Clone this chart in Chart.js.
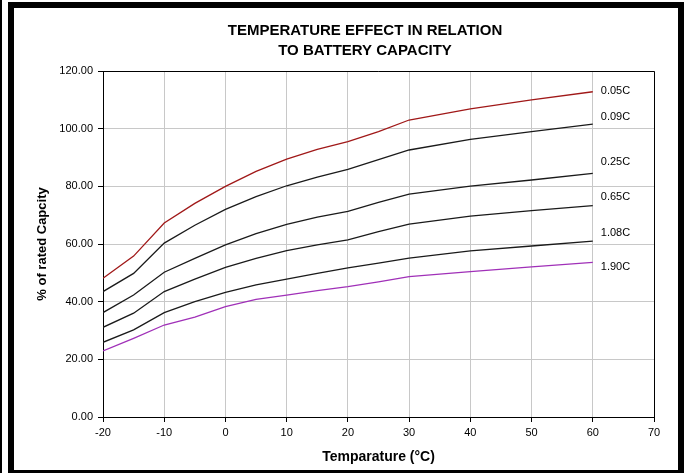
<!doctype html>
<html lang="en">

<head>
    <meta charset="utf-8">
    <title>Temperature Effect || Battery</title>
    <script src="https://cdn.jsdelivr.net/npm/chart.js"></script>
    <style>
        html, body {
            margin: 0;
            padding: 0;
            background: #ffffff;
        }

        .wrap {
            position: relative;
            width: 686px;
            height: 473px;
            overflow: hidden;
        }

        /* thin line on the far left + thick frame */
        .garis {
            position: absolute;
            left: 0;
            top: 0;
            width: 2px;
            height: 473px;
            background: #000;
        }

        .bingkai {
            position: absolute;
            left: 8px;
            top: 2px;
            width: 664px;
            height: 462px;
            border-left: 6px solid #000;
            border-top: 6px solid #000;
            border-right: 6px solid #000;
            border-bottom: 6px solid #000;
            pointer-events: none;
        }

        canvas {
            position: absolute;
            left: 0;
            top: 0;
        }
    </style>
</head>

<body>
    <div class="wrap">
        <canvas id="chart" width="686" height="473"></canvas>
        <div class="garis"></div>
        <div class="bingkai"></div>
    </div>

    <script>
        // temperatures (°C)
        const temps = [-20, -15, -10, -5, 0, 5, 10, 15, 20, 25, 30, 40, 50, 60];

        // % of rated capacity per discharge rate
        const rate005 = [48.1, 55.8, 67.3, 74.1, 80.0, 85.2, 89.4, 92.8, 95.5, 99.0, 103.0, 106.9, 110.0, 112.8];
        const rate009 = [43.5, 49.8, 60.3, 66.5, 72.0, 76.4, 80.2, 83.2, 85.9, 89.3, 92.6, 96.3, 99.0, 101.6];
        const rate025 = [36.2, 42.3, 50.2, 55.0, 59.7, 63.6, 66.8, 69.3, 71.3, 74.4, 77.3, 80.1, 82.2, 84.5];
        const rate065 = [31.1, 36.0, 43.5, 47.8, 51.9, 55.0, 57.7, 59.7, 61.4, 64.3, 66.9, 69.7, 71.6, 73.3];
        const rate108 = [25.9, 30.2, 36.2, 40.0, 43.2, 45.8, 47.8, 49.8, 51.7, 53.4, 55.1, 57.6, 59.3, 61.0];
        const rate190 = [22.9, 27.3, 31.9, 34.6, 38.3, 40.8, 42.3, 43.8, 45.2, 46.9, 48.7, 50.4, 52.1, 53.6];

        const seriesNames = ['0.05C', '0.09C', '0.25C', '0.65C', '1.08C', '1.90C'];
        const seriesValues = [rate005, rate009, rate025, rate065, rate108, rate190];
        // where the name of each curve sits (in % units), right of the last point
        const labelAt = [113.1, 104.1, 88.4, 76.3, 63.8, 52.0];

        const colors = ['#a01818', '#1a1a1a', '#1a1a1a', '#1a1a1a', '#1a1a1a', '#a030b8'];
        const fontName = '"Liberation Sans", Arial, sans-serif';

        const datasets = seriesNames.map((name, i) => ({
            label: name,
            data: temps.map((t, k) => ({ x: t, y: seriesValues[i][k] })),
            borderColor: colors[i],
            borderWidth: 1.3,
            pointRadius: 0,
            tension: 0,
            fill: false
        }));

        // box line, curve names and the two-line title
        const hiasan = {
            id: 'hiasan',
            afterDraw(chart) {
                const { ctx, chartArea: a, scales } = chart;
                ctx.save();
                ctx.strokeStyle = '#000';
                ctx.lineWidth = 1;
                ctx.beginPath();
                ctx.moveTo(a.left, a.top + 0.5);
                ctx.lineTo(a.right + 0.5, a.top + 0.5);
                ctx.lineTo(a.right + 0.5, a.bottom);
                ctx.stroke();

                ctx.fillStyle = '#000';
                ctx.font = '11px ' + fontName;
                ctx.textBaseline = 'middle';
                ctx.textAlign = 'left';
                seriesNames.forEach((name, i) => {
                    const x = scales.x.getPixelForValue(temps[temps.length - 1]) + 8;
                    ctx.fillText(name, x, scales.y.getPixelForValue(labelAt[i]));
                });

                ctx.font = 'bold 15px ' + fontName;
                ctx.textAlign = 'center';
                ctx.fillText('TEMPERATURE EFFECT IN RELATION', 365, 31);
                ctx.fillText('TO BATTERY CAPACITY', 365, 51);
                ctx.restore();
            }
        };

        const ctx = document.getElementById('chart').getContext('2d');
        new Chart(ctx, {
            type: 'line',
            data: { datasets: datasets },
            options: {
                responsive: false,
                animation: false,
                layout: {
                    padding: { left: 0, top: 71, right: 32, bottom: 0 }
                },
                plugins: {
                    legend: { display: false },
                    tooltip: { enabled: false }
                },
                scales: {
                    x: {
                        type: 'linear',
                        min: -20,
                        max: 70,
                        afterFit: function (scale) { scale.height = 56; },
                        ticks: {
                            stepSize: 10,
                            color: '#000',
                            padding: 4,
                            maxRotation: 0,
                            font: { family: fontName, size: 11 }
                        },
                        grid: { color: '#c8c8c8', tickColor: '#000', tickLength: 5 },
                        border: { color: '#000', width: 1 },
                        title: {
                            display: true,
                            text: 'Temparature (°C)',
                            color: '#000',
                            font: { family: fontName, size: 14, weight: 'bold' },
                            padding: { top: 0, bottom: 7 }
                        }
                    },
                    y: {
                        min: 0,
                        max: 120,
                        afterFit: function (scale) { scale.width = 103; },
                        ticks: {
                            stepSize: 20,
                            color: '#000',
                            padding: 5,
                            font: { family: fontName, size: 11 },
                            callback: function (value) {
                                return value.toFixed(2);
                            }
                        },
                        grid: { color: '#c8c8c8', tickColor: '#000', tickLength: 5 },
                        border: { color: '#000', width: 1 },
                        title: {
                            display: true,
                            text: '% of rated Capcity',
                            color: '#000',
                            font: { family: fontName, size: 13, weight: 'bold' },
                            padding: { top: 35, bottom: 0 }
                        }
                    }
                }
            },
            plugins: [hiasan]
        });
    </script>
</body>

</html>
